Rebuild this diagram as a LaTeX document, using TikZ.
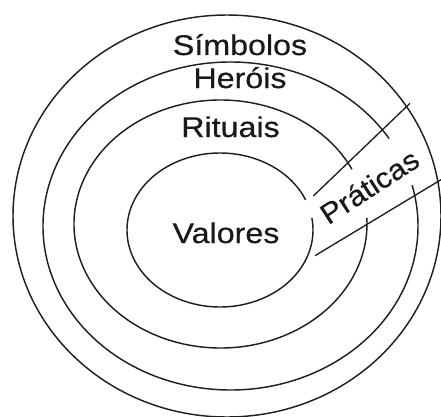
\documentclass[tikz,border=0pt]{standalone}
\usepackage{graphicx}
\usepackage{fontspec}
\setmainfont{Liberation Sans}
\newfontfamily\lblfont[FakeBold=0.5]{Liberation Sans}
\begin{document}
\begin{tikzpicture}[x=1pt,y=1pt,
  ring/.style={line width=1.45pt, black!88},
  band/.style={line width=1.35pt, black!88},
  lbl/.style={font=\lblfont\fontsize{28.5}{34}\selectfont, anchor=base, inner sep=0pt, text=black!90}]
\useasboundingbox (0,0) rectangle (441,416);
% centres of the rings
\coordinate (c0) at (227,200);
\coordinate (c1) at (230.5,190);
\coordinate (c2) at (220.5,192);
\coordinate (c3) at (220,186);
% outer ring (Simbolos)
\draw[ring] (c0) ellipse [x radius=214pt, y radius=201pt];
% second ring (Herois), open on the band
\draw[ring] ([shift={(32.2:187.5pt and 164pt)}]c1)
  arc[start angle=32.2, end angle=374.4, x radius=187.5pt, y radius=164pt];
% third ring (Rituais)
\draw[ring] ([shift={(26.2:146.5pt and 124pt)}]c2)
  arc[start angle=26.2, end angle=362.8, x radius=146.5pt, y radius=124pt];
% inner ring (Valores)
\draw[ring] ([shift={(23:93pt and 77pt)}]c3)
  arc[start angle=23, end angle=369, x radius=93pt, y radius=77pt];
% the Praticas band
\coordinate (u1) at (313.3,220);
\coordinate (u2) at (410,312.7);
\coordinate (l1) at (315,160.3);
\coordinate (l2) at (443,237.5);
\draw[band] (u1) -- (u2);
\draw[band] (l1) -- (l2);
% labels
\node[lbl] (sim) at (240,361) {\scalebox{1.13}[1]{Símbolos}};
\node[lbl] (her) at (240,328) {\scalebox{1.13}[1]{Heróis}};
\node[lbl] (rit) at (230.5,279) {\scalebox{1.13}[1]{Rituais}};
\node[lbl] (val) at (226,173) {\scalebox{1.13}[1]{Valores}};
\node[lbl, rotate=33] (pra) at (375,221) {\scalebox{1.08}[1]{Práticas}};
\end{tikzpicture}
\end{document}
